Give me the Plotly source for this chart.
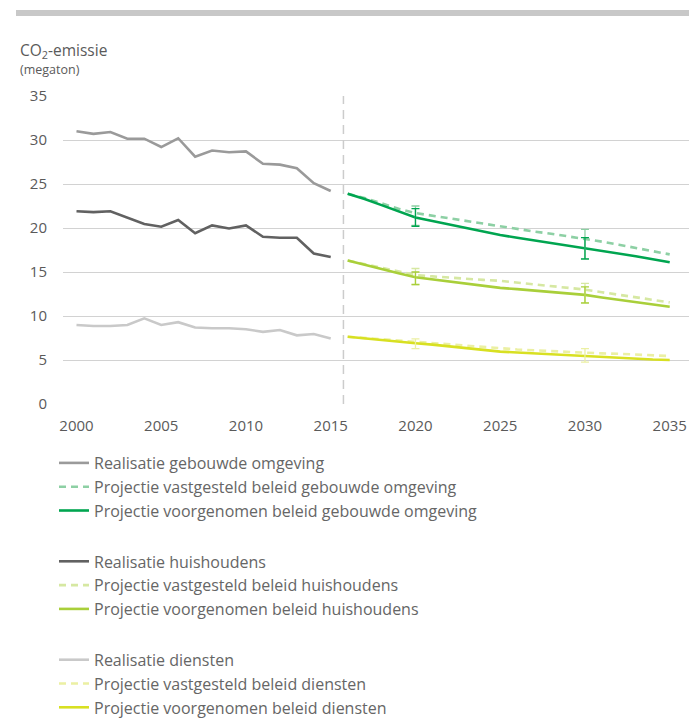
import plotly.graph_objects as go

# ---------------- data ----------------
years_real = list(range(2000, 2016))
years_proj = list(range(2016, 2036))

real_gebouwd = [31.0, 30.7, 30.9, 30.15, 30.15, 29.2, 30.2, 28.1, 28.8, 28.6, 28.7, 27.3, 27.2, 26.8, 25.1, 24.2]
real_huish = [21.9, 21.8, 21.9, 21.2, 20.45, 20.15, 20.9, 19.4, 20.3, 19.95, 20.3, 19.0, 18.9, 18.9, 17.1, 16.7]
real_diensten = [8.98, 8.86, 8.86, 8.98, 9.74, 8.98, 9.3, 8.7, 8.6, 8.6, 8.5, 8.2, 8.4, 7.8, 7.95, 7.45]

vast_gebouwd = [23.9, 23.4, 22.8, 22.2, 21.7, 21.4, 21.1, 20.8, 20.45, 20.15, 19.9, 19.6, 19.35, 19.05, 18.8, 18.45, 18.1, 17.75, 17.4, 17.0]
voor_gebouwd = [23.9, 23.3, 22.6, 21.9, 21.2, 20.8, 20.4, 20.0, 19.6, 19.2, 18.9, 18.6, 18.3, 18.05, 17.7, 17.4, 17.1, 16.8, 16.45, 16.1]
vast_huish = [16.3, 15.9, 15.45, 15.05, 14.65, 14.5, 14.35, 14.25, 14.1, 14.0, 13.8, 13.6, 13.4, 13.2, 13.0, 12.7, 12.4, 12.1, 11.85, 11.55]
voor_huish = [16.3, 15.8, 15.3, 14.85, 14.4, 14.15, 13.9, 13.65, 13.4, 13.2, 13.05, 12.9, 12.7, 12.55, 12.4, 12.1, 11.85, 11.6, 11.3, 11.05]
vast_diensten = [7.65, 7.5, 7.35, 7.2, 7.1, 6.95, 6.8, 6.6, 6.45, 6.3, 6.2, 6.1, 6.0, 5.95, 5.85, 5.75, 5.7, 5.6, 5.55, 5.45]
voor_diensten = [7.65, 7.45, 7.3, 7.1, 6.9, 6.75, 6.55, 6.4, 6.15, 5.95, 5.85, 5.75, 5.6, 5.5, 5.4, 5.3, 5.2, 5.15, 5.05, 5.0]

# uncertainty bands (at 2020 and 2030)
err_years = [2020, 2030]
err_vast_gebouwd_c = [21.7, 18.8]
err_vast_gebouwd_hi = [22.5, 19.85]
err_vast_gebouwd_lo = [20.3, 16.45]
err_voor_gebouwd_c = [21.2, 17.7]
err_voor_gebouwd_hi = [22.2, 18.9]
err_voor_gebouwd_lo = [20.2, 16.5]
err_vast_huish_c = [14.65, 13.0]
err_vast_huish_hi = [15.4, 13.7]
err_vast_huish_lo = [13.5, 11.45]
err_voor_huish_c = [14.4, 12.4]
err_voor_huish_hi = [15.0, 13.3]
err_voor_huish_lo = [13.6, 11.5]
err_vast_diensten_c = [7.1, 5.85]
err_vast_diensten_hi = [7.4, 6.3]
err_vast_diensten_lo = [6.3, 4.75]

split_year = 2015.75
x_ticks = [2000, 2005, 2010, 2015, 2020, 2025, 2030, 2035]
y_ticks = [0, 5, 10, 15, 20, 25, 30, 35]

# ---------------- colours ----------------
C_REAL_G = "#9a9a9a"
C_REAL_H = "#616161"
C_REAL_D = "#c9c9c9"
C_VAST_G = "#8dd0a4"
C_VOOR_G = "#00a550"
C_VAST_H = "#d6e8a2"
C_VOOR_H = "#a9cf3a"
C_VAST_D = "#ebf0a3"
C_VOOR_D = "#d8e022"

DASH = "7px,5px"

fig = go.Figure()

def line(x, y, name, color, group, dash="solid", width=2.6):
    fig.add_trace(go.Scatter(
        x=x, y=y, name=name, mode="lines", legendgroup=group,
        line=dict(color=color, width=width, dash=dash),
        hoverinfo="skip"))

def errbar(c, hi, lo, color, group):
    fig.add_trace(go.Scatter(
        x=err_years, y=c, mode="markers", showlegend=False, legendgroup=group,
        marker=dict(size=1, color="rgba(0,0,0,0)"),
        error_y=dict(type="data", symmetric=False,
                     array=[h - v for h, v in zip(hi, c)],
                     arrayminus=[v - l for l, v in zip(lo, c)],
                     color=color, thickness=1.3, width=4),
        hoverinfo="skip"))

line(years_real, real_gebouwd, "Realisatie gebouwde omgeving", C_REAL_G, "g")
line(years_proj, vast_gebouwd, "Projectie vastgesteld beleid gebouwde omgeving", C_VAST_G, "g", DASH)
line(years_proj, voor_gebouwd, "Projectie voorgenomen beleid gebouwde omgeving", C_VOOR_G, "g")
errbar(err_vast_gebouwd_c, err_vast_gebouwd_hi, err_vast_gebouwd_lo, C_VAST_G, "g")
errbar(err_voor_gebouwd_c, err_voor_gebouwd_hi, err_voor_gebouwd_lo, C_VOOR_G, "g")

line(years_real, real_huish, "Realisatie huishoudens", C_REAL_H, "h")
line(years_proj, vast_huish, "Projectie vastgesteld beleid huishoudens", C_VAST_H, "h", DASH)
line(years_proj, voor_huish, "Projectie voorgenomen beleid huishoudens", C_VOOR_H, "h")
errbar(err_vast_huish_c, err_vast_huish_hi, err_vast_huish_lo, C_VAST_H, "h")
errbar(err_voor_huish_c, err_voor_huish_hi, err_voor_huish_lo, C_VOOR_H, "h")

line(years_real, real_diensten, "Realisatie diensten", C_REAL_D, "d")
line(years_proj, vast_diensten, "Projectie vastgesteld beleid diensten", C_VAST_D, "d", DASH)
line(years_proj, voor_diensten, "Projectie voorgenomen beleid diensten", C_VOOR_D, "d")
errbar(err_vast_diensten_c, err_vast_diensten_hi, err_vast_diensten_lo, C_VAST_D, "d")

FONT = "Open Sans"
TXT = "#5a5a5a"

# page body has an 8px margin; figure is sized/placed to compensate
W, H = 689, 711
ML, MT, MB = 55, 88, 315
PH = H - MT - MB  # plot height
PW = W - ML       # plot width

fig.update_layout(
    width=W, height=H,
    margin=dict(l=ML, r=0, t=MT, b=MB, autoexpand=False),
    paper_bgcolor="white", plot_bgcolor="white",
    font=dict(family=FONT, size=14, color=TXT),
    showlegend=True,
    legend=dict(
        x=(46 - ML) / PW, y=-(438 - (MT + PH)) / PH, xanchor="left", yanchor="top",
        traceorder="grouped", tracegroupgap=27,
        font=dict(family=FONT, size=16, color="#666666"),
        itemwidth=30, bgcolor="rgba(0,0,0,0)"),
    xaxis=dict(
        range=[1999.204, 2036.61], tickvals=x_ticks, ticktext=[str(t) for t in x_ticks],
        showgrid=False, zeroline=False, showline=False, ticks="",
        tickfont=dict(family=FONT, size=15, color=TXT), ticklabelstandoff=11),
    yaxis=dict(
        range=[0, 35], tickvals=y_ticks, ticktext=[str(t) for t in y_ticks],
        showgrid=True, gridcolor="#d2d2d2", gridwidth=1, zeroline=False,
        showline=False, ticks="",
        tickfont=dict(family=FONT, size=15, color=TXT), ticklabelstandoff=15),
    shapes=[
        dict(type="line", xref="x", yref="paper", x0=split_year, x1=split_year, y0=0, y1=1,
             line=dict(color="#cccccc", width=1.5, dash="9px,6px")),
        dict(type="rect", xref="paper", yref="paper", x0=(8 - ML) / PW, x1=1.0,
             y0=1 + (MT - 8) / PH, y1=1 + (MT - 2) / PH,
             fillcolor="#c8c8c8", line=dict(width=0)),
    ],
    annotations=[
        dict(text="CO<sub>2</sub>-emissie", xref="paper", yref="paper",
             x=(10 - ML) / PW, y=1 + (MT - 42) / PH, xanchor="left", yanchor="middle",
             showarrow=False, font=dict(family=FONT, size=15.5, color=TXT)),
        dict(text="(megaton)", xref="paper", yref="paper",
             x=(10 - ML) / PW, y=1 + (MT - 62) / PH, xanchor="left", yanchor="middle",
             showarrow=False, font=dict(family=FONT, size=12.5, color=TXT)),
    ],
)

fig.write_html("out.html")
